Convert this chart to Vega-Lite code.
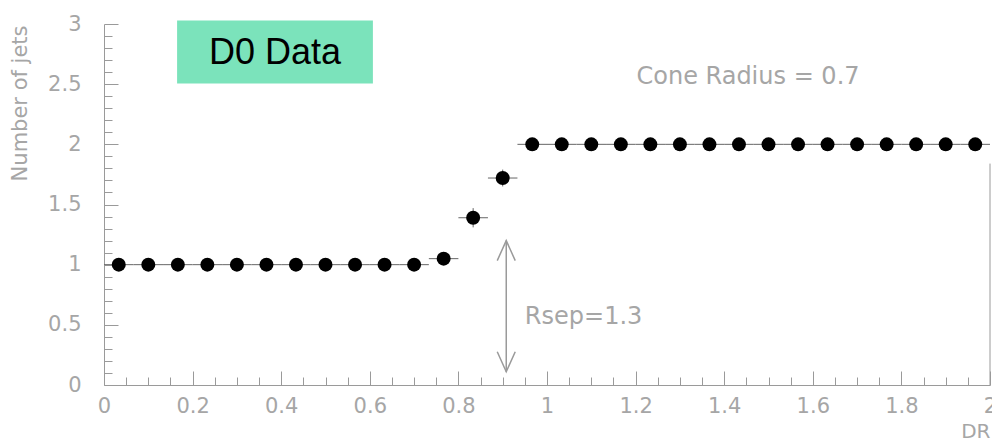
{
  "$schema": "https://vega.github.io/schema/vega-lite/v6.json",
  "width": 886,
  "height": 361,
  "autosize": "none",
  "padding": {"left": 104, "top": 24, "right": 2, "bottom": 57},
  "background": "white",
  "config": {
    "view": {"stroke": null},
    "axis": {
      "grid": false,
      "tickColor": "#9a9a9a",
      "domainColor": "#9a9a9a",
      "labelColor": "#a6a6a6",
      "labelFont": "DejaVu Sans",
      "labelFontSize": 21,
      "labelFlush": false,
      "labelOverlap": false,
      "titleFont": "DejaVu Sans",
      "titleFontWeight": "normal",
      "titleColor": "#a6a6a6"
    }
  },
  "datasets": {
    "bins": [
      {"dr": 0.0333, "lo": 0.0, "hi": 0.0667, "n": 1.0, "nlo": 1.0, "nhi": 1.0},
      {"dr": 0.1, "lo": 0.0667, "hi": 0.1333, "n": 1.0, "nlo": 1.0, "nhi": 1.0},
      {"dr": 0.1667, "lo": 0.1333, "hi": 0.2, "n": 1.0, "nlo": 1.0, "nhi": 1.0},
      {"dr": 0.2333, "lo": 0.2, "hi": 0.2667, "n": 1.0, "nlo": 1.0, "nhi": 1.0},
      {"dr": 0.3, "lo": 0.2667, "hi": 0.3333, "n": 1.0, "nlo": 1.0, "nhi": 1.0},
      {"dr": 0.3667, "lo": 0.3333, "hi": 0.4, "n": 1.0, "nlo": 1.0, "nhi": 1.0},
      {"dr": 0.4333, "lo": 0.4, "hi": 0.4667, "n": 1.0, "nlo": 1.0, "nhi": 1.0},
      {"dr": 0.5, "lo": 0.4667, "hi": 0.5333, "n": 1.0, "nlo": 1.0, "nhi": 1.0},
      {"dr": 0.5667, "lo": 0.5333, "hi": 0.6, "n": 1.0, "nlo": 1.0, "nhi": 1.0},
      {"dr": 0.6333, "lo": 0.6, "hi": 0.6667, "n": 1.0, "nlo": 1.0, "nhi": 1.0},
      {"dr": 0.7, "lo": 0.6667, "hi": 0.7333, "n": 1.0, "nlo": 1.0, "nhi": 1.0},
      {"dr": 0.7667, "lo": 0.7333, "hi": 0.8, "n": 1.05, "nlo": 1.03, "nhi": 1.07},
      {"dr": 0.8333, "lo": 0.8, "hi": 0.8667, "n": 1.39, "nlo": 1.31, "nhi": 1.47},
      {"dr": 0.9, "lo": 0.8667, "hi": 0.9333, "n": 1.72, "nlo": 1.65, "nhi": 1.79},
      {"dr": 0.9667, "lo": 0.9333, "hi": 1.0, "n": 2.0, "nlo": 2.0, "nhi": 2.0},
      {"dr": 1.0333, "lo": 1.0, "hi": 1.0667, "n": 2.0, "nlo": 2.0, "nhi": 2.0},
      {"dr": 1.1, "lo": 1.0667, "hi": 1.1333, "n": 2.0, "nlo": 2.0, "nhi": 2.0},
      {"dr": 1.1667, "lo": 1.1333, "hi": 1.2, "n": 2.0, "nlo": 2.0, "nhi": 2.0},
      {"dr": 1.2333, "lo": 1.2, "hi": 1.2667, "n": 2.0, "nlo": 2.0, "nhi": 2.0},
      {"dr": 1.3, "lo": 1.2667, "hi": 1.3333, "n": 2.0, "nlo": 2.0, "nhi": 2.0},
      {"dr": 1.3667, "lo": 1.3333, "hi": 1.4, "n": 2.0, "nlo": 2.0, "nhi": 2.0},
      {"dr": 1.4333, "lo": 1.4, "hi": 1.4667, "n": 2.0, "nlo": 2.0, "nhi": 2.0},
      {"dr": 1.5, "lo": 1.4667, "hi": 1.5333, "n": 2.0, "nlo": 2.0, "nhi": 2.0},
      {"dr": 1.5667, "lo": 1.5333, "hi": 1.6, "n": 2.0, "nlo": 2.0, "nhi": 2.0},
      {"dr": 1.6333, "lo": 1.6, "hi": 1.6667, "n": 2.0, "nlo": 2.0, "nhi": 2.0},
      {"dr": 1.7, "lo": 1.6667, "hi": 1.7333, "n": 2.0, "nlo": 2.0, "nhi": 2.0},
      {"dr": 1.7667, "lo": 1.7333, "hi": 1.8, "n": 2.0, "nlo": 2.0, "nhi": 2.0},
      {"dr": 1.8333, "lo": 1.8, "hi": 1.8667, "n": 2.0, "nlo": 2.0, "nhi": 2.0},
      {"dr": 1.9, "lo": 1.8667, "hi": 1.9333, "n": 2.0, "nlo": 2.0, "nhi": 2.0},
      {"dr": 1.9667, "lo": 1.9333, "hi": 2.0, "n": 2.0, "nlo": 2.0, "nhi": 2.0}
    ]
  },
  "data": {"name": "bins"},
  "resolve": {"axis": {"x": "independent", "y": "independent"}},
  "layer": [
    {
      "layer": [
        {
          "mark": {"type": "rule", "color": "#666666", "strokeWidth": 1},
          "encoding": {
            "x": {"field": "lo", "type": "quantitative", "scale": {"domain": [0, 2], "nice": false, "zero": false}, "title": "DR",
              "axis": {"orient": "bottom", "values": [0, 0.2, 0.4, 0.6, 0.8, 1, 1.2, 1.4, 1.6, 1.8, 2], "format": "~g", "ticks": false, "tickSize": 0, "labelPadding": 10, "titleFontSize": 20, "titleAnchor": "end", "titleAlign": "right", "titleBaseline": "alphabetic", "titleX": 886, "titleY": 52}},
            "x2": {"field": "hi"},
            "y": {"field": "n", "type": "quantitative", "scale": {"domain": [0, 3], "nice": false, "zero": false}, "title": "Number of jets",
              "axis": {"orient": "left", "values": [0, 0.5, 1, 1.5, 2, 2.5, 3], "format": "~g", "ticks": false, "tickSize": 0, "labelPadding": 23, "titleFontSize": 21, "titleAngle": 270, "titleAlign": "right", "titleBaseline": "middle", "titleX": -84, "titleY": 1}}
          }
        },
        {
          "mark": {"type": "rule", "color": "#666666", "strokeWidth": 1},
          "encoding": {
            "x": {"field": "dr", "type": "quantitative", "title": "DR"},
            "y": {"field": "nlo", "type": "quantitative", "title": "Number of jets"},
            "y2": {"field": "nhi"}
          }
        },
        {
          "mark": {"type": "circle", "color": "#000000", "opacity": 1, "size": 195},
          "encoding": {
            "x": {"field": "dr", "type": "quantitative", "title": "DR"},
            "y": {"field": "n", "type": "quantitative", "title": "Number of jets"}
          }
        },
        {
          "data": {"values": [{}]},
          "layer": [
            {
              "mark": {"type": "rule", "color": "#9a9a9a", "strokeWidth": 1},
              "encoding": {
                "x": {"datum": 2, "type": "quantitative", "title": "DR"},
                "y": {"datum": 0, "type": "quantitative", "title": "Number of jets"},
                "y2": {"datum": 1.84}
              }
            },
            {
              "mark": {"type": "rule", "color": "#9a9a9a", "strokeWidth": 1.5},
              "encoding": {
                "x": {"datum": 0.908, "type": "quantitative", "title": "DR"},
                "y": {"datum": 0.11, "type": "quantitative", "title": "Number of jets"},
                "y2": {"datum": 1.2}
              }
            },
            {
              "mark": {"type": "point", "shape": "M-0.45,1L0,0L0.45,1", "size": 1600, "filled": false, "stroke": "#9a9a9a", "strokeWidth": 1.5, "opacity": 1},
              "encoding": {
                "x": {"datum": 0.908, "type": "quantitative", "title": "DR"},
                "y": {"datum": 1.2, "type": "quantitative", "title": "Number of jets"}
              }
            },
            {
              "mark": {"type": "point", "shape": "M-0.45,-1L0,0L0.45,-1", "size": 1600, "filled": false, "stroke": "#9a9a9a", "strokeWidth": 1.5, "opacity": 1},
              "encoding": {
                "x": {"datum": 0.908, "type": "quantitative", "title": "DR"},
                "y": {"datum": 0.11, "type": "quantitative", "title": "Number of jets"}
              }
            },
            {
              "mark": {"type": "text", "text": "Rsep=1.3", "align": "left", "baseline": "middle", "font": "DejaVu Sans", "fontSize": 24, "color": "#a6a6a6"},
              "encoding": {
                "x": {"datum": 0.95, "type": "quantitative", "title": "DR"},
                "y": {"datum": 0.564, "type": "quantitative", "title": "Number of jets"}
              }
            },
            {
              "mark": {"type": "text", "text": "Cone Radius = 0.7", "align": "left", "baseline": "middle", "font": "DejaVu Sans", "fontSize": 24, "color": "#a6a6a6"},
              "encoding": {
                "x": {"datum": 1.202, "type": "quantitative", "title": "DR"},
                "y": {"datum": 2.556, "type": "quantitative", "title": "Number of jets"}
              }
            },
            {
              "mark": {"type": "rect", "color": "#7be3bb", "opacity": 1},
              "encoding": {
                "x": {"datum": 0.165, "type": "quantitative", "title": "DR"},
                "x2": {"datum": 0.607},
                "y": {"datum": 2.506, "type": "quantitative", "title": "Number of jets"},
                "y2": {"datum": 3.03}
              }
            },
            {
              "mark": {"type": "text", "text": "D0 Data", "align": "center", "baseline": "middle", "font": "Liberation Sans", "fontSize": 36, "color": "#000000"},
              "encoding": {
                "x": {"datum": 0.386, "type": "quantitative", "title": "DR"},
                "y": {"datum": 2.755, "type": "quantitative", "title": "Number of jets"}
              }
            }
          ]
        }
      ]
    },
    {
      "mark": {"type": "circle", "opacity": 0},
      "encoding": {
        "x": {"field": "dr", "type": "quantitative", "title": null,
          "axis": {"orient": "top", "offset": -361, "labels": false, "domain": false, "ticks": true,
            "values": [0,0.05,0.1,0.15,0.2,0.25,0.3,0.35,0.4,0.45,0.5,0.55,0.6,0.65,0.7,0.75,0.8,0.85,0.9,0.95,1,1.05,1.1,1.15,1.2,1.25,1.3,1.35,1.4,1.45,1.5,1.55,1.6,1.65,1.7,1.75,1.8,1.85,1.9,1.95,2],
            "tickSize": {"condition": {"test": "abs(datum.value*5 - round(datum.value*5)) < 0.001", "value": 14}, "value": 8}}},
        "y": {"field": "n", "type": "quantitative", "title": null,
          "axis": {"orient": "right", "offset": -886, "labels": false, "domain": false, "ticks": true,
            "values": [0,0.1,0.2,0.3,0.4,0.5,0.6,0.7,0.8,0.9,1,1.1,1.2,1.3,1.4,1.5,1.6,1.7,1.8,1.9,2,2.1,2.2,2.3,2.4,2.5,2.6,2.7,2.8,2.9,3],
            "tickSize": {"condition": {"test": "abs(datum.value*2 - round(datum.value*2)) < 0.001", "value": 14}, "value": 8}}}
      }
    }
  ]
}
